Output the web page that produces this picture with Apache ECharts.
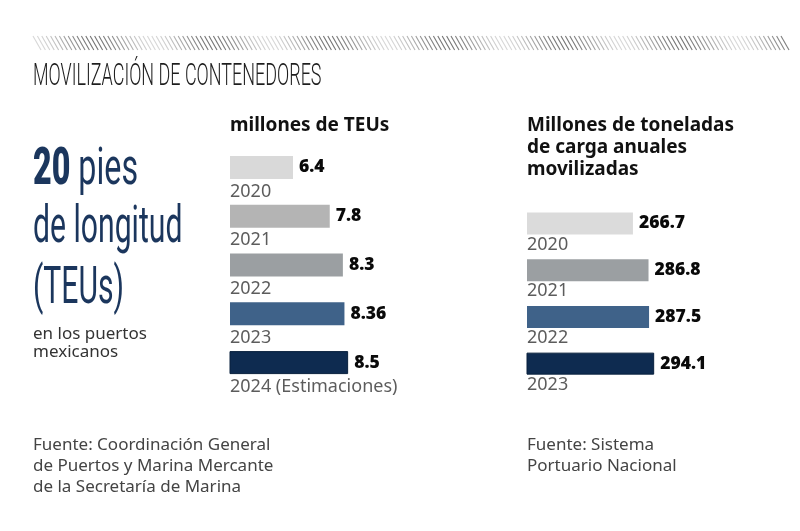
<!DOCTYPE html>
<html>
<head>
<meta charset="utf-8">
<script src="https://cdn.jsdelivr.net/npm/echarts@6/dist/echarts.min.js"></script>
<style>html,body{margin:0;padding:0;background:#fff}#c{width:800px;height:531px}</style>
</head>
<body>
<div id="c"></div>
<script>
// ---- data ----
const teuYears = ['2020', '2021', '2022', '2023', '2024 (Estimaciones)'];
const teuValues = [6.4, 7.8, 8.3, 8.36, 8.5];
const teuLabels = ['6.4', '7.8', '8.3', '8.36', '8.5'];
const cargoYears = ['2020', '2021', '2022', '2023'];
const cargoValues = [266.7, 286.8, 287.5, 294.1];
const cargoLabels = ['266.7', '286.8', '287.5', '294.1'];

// ---- styles ----
const teuColors = ['#d9d9d9', '#b4b4b4', '#9b9fa2', '#3f6289', '#0e2b50'];
const cargoColors = ['#dbdbdb', '#9b9fa2', '#3f6289', '#0e2b50'];
const navy = '#1b365d';
const bodyFont = '"Noto Sans", sans-serif';

const chart = echarts.init(document.getElementById('c'), null, {renderer: 'canvas'});

// decorative hatched band
const hatch = [];
for (let x = 33; x < 782; x += 4.4) {
  const t = (x - 33) / 117 * Math.PI * 2;
  const g = Math.round(115 + 100 * (0.5 + 0.5 * Math.cos(t)));
  const c = 'rgb(' + g + ',' + g + ',' + g + ')';
  hatch.push({type: 'line', silent: true,
    shape: {x1: x, y1: 36, x2: x + 8, y2: 50},
    style: {stroke: c, lineWidth: 1.1}});
}

const teuMin = 4, teuMax = 12;
const cargoMin = 130, cargoMax = 330;

const option = {
  backgroundColor: '#fff',
  animation: false,
  grid: [
    {left: 230, top: 143, width: 210, height: 244},
    {left: 527, top: 200, width: 155, height: 187}
  ],
  xAxis: [
    {gridIndex: 0, type: 'value', min: teuMin, max: teuMax, show: false},
    {gridIndex: 1, type: 'value', min: cargoMin, max: cargoMax, show: false}
  ],
  yAxis: [
    {gridIndex: 0, type: 'category', data: teuYears, inverse: true, show: false},
    {gridIndex: 1, type: 'category', data: cargoYears, inverse: true, show: false}
  ],
  series: [
    {
      type: 'bar', xAxisIndex: 0, yAxisIndex: 0, barWidth: 23,
      data: teuValues.map((v, i) => ({value: v, itemStyle: {color: teuColors[i],
        borderColor: i === 4 ? '#08203d' : teuColors[i], borderWidth: i === 4 ? 1 : 0}})),
      label: {show: true, position: 'right', distance: 6,
        formatter: p => teuLabels[p.dataIndex],
        color: '#0a0a0a', fontFamily: bodyFont, fontWeight: 900, fontSize: 17.5}
    },
    {
      type: 'scatter', xAxisIndex: 0, yAxisIndex: 0, symbolSize: 0, clip: false,
      data: teuYears.map((y, i) => [teuMin, i]),
      label: {show: true, position: [0, 24], align: 'left', verticalAlign: 'middle',
        formatter: p => teuYears[p.dataIndex],
        color: '#333', fontFamily: bodyFont, fontSize: 18}
    },
    {
      type: 'bar', xAxisIndex: 1, yAxisIndex: 1, barWidth: 22,
      data: cargoValues.map((v, i) => ({value: v, itemStyle: {color: cargoColors[i],
        borderColor: i === 3 ? '#08203d' : cargoColors[i], borderWidth: i === 3 ? 1 : 0}})),
      label: {show: true, position: 'right', distance: 6,
        formatter: p => cargoLabels[p.dataIndex],
        color: '#0a0a0a', fontFamily: bodyFont, fontWeight: 900, fontSize: 17.5}
    },
    {
      type: 'scatter', xAxisIndex: 1, yAxisIndex: 1, symbolSize: 0, clip: false,
      data: cargoYears.map((y, i) => [cargoMin, i]),
      label: {show: true, position: [0, 21], align: 'left', verticalAlign: 'middle',
        formatter: p => cargoYears[p.dataIndex],
        color: '#333', fontFamily: bodyFont, fontSize: 18}
    }
  ],
  graphic: hatch.concat([
    {type: 'text', x: 33, y: 62, scaleX: 0.58,
      style: {text: 'MOVILIZACIÓN DE CONTENEDORES', fill: '#1e1e1e',
        font: '300 31px Roboto'}},
    {type: 'text', x: 33, y: 145, scaleX: 0.62,
      style: {rich: {b: {font: '900 52px Roboto', fill: navy}, n: {font: '400 52px Roboto', fill: navy}},
        text: '{b|20}{n| pies}'}},
    {type: 'text', x: 33, y: 203, scaleX: 0.58,
      style: {text: 'de longitud', font: '400 52px Roboto', fill: navy}},
    {type: 'text', x: 33, y: 264, scaleX: 0.58,
      style: {text: '(TEUs)', font: '400 52px Roboto', fill: navy}},
    {type: 'text', x: 33, y: 325,
      style: {text: 'en los puertos\nmexicanos', font: '17px "Noto Sans"', fill: '#333', lineHeight: 18}},
    {type: 'text', x: 230, y: 116,
      style: {text: 'millones de TEUs', font: 'bold 19px "Noto Sans"', fill: '#111'}},
    {type: 'text', x: 527, y: 115,
      style: {text: 'Millones de toneladas\nde carga anuales\nmovilizadas', font: 'bold 19px "Noto Sans"', fill: '#111', lineHeight: 22}},
    {type: 'text', x: 33, y: 435,
      style: {text: 'Fuente: Coordinación General\nde Puertos y Marina Mercante\nde la Secretaría de Marina', font: '17px "Noto Sans"', fill: '#444', lineHeight: 21}},
    {type: 'text', x: 527, y: 435,
      style: {text: 'Fuente: Sistema\nPortuario Nacional', font: '17px "Noto Sans"', fill: '#444', lineHeight: 21}}
  ])
};
chart.setOption(option);
</script>
</body>
</html>
